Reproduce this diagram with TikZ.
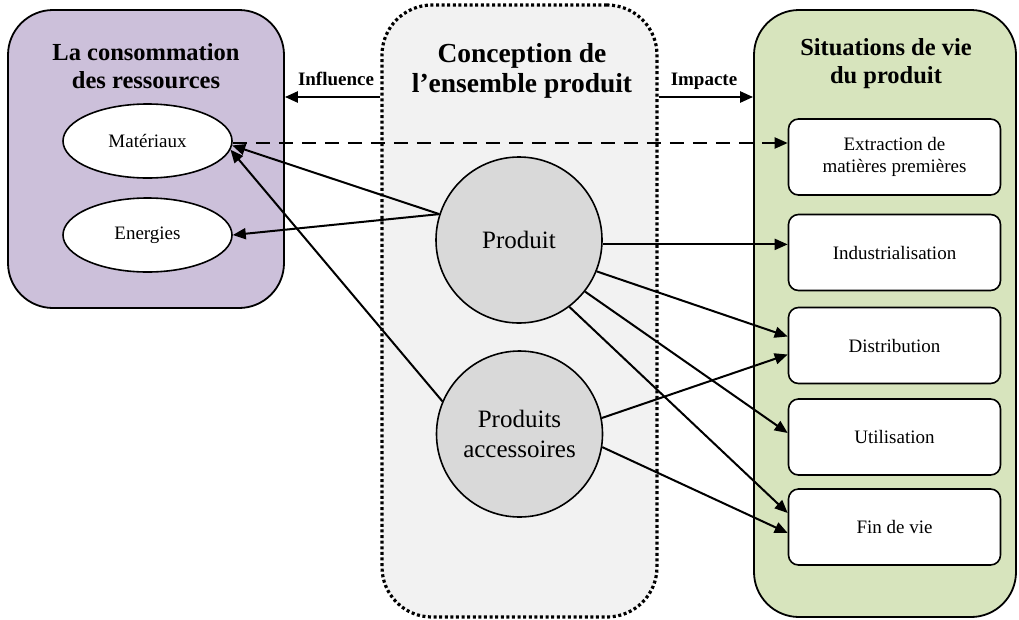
\documentclass[tikz,border=0pt]{standalone}
\usepackage{fontspec}
\setmainfont{Liberation Serif}
\usetikzlibrary{arrows.meta,calc,shapes.geometric}
\definecolor{purpleL}{HTML}{CCC0DA}
\definecolor{greenL}{HTML}{D7E4BD}
\definecolor{ctrgray}{HTML}{F2F2F2}
\definecolor{circgray}{HTML}{D9D9D9}
\begin{document}
\begin{tikzpicture}[x=1pt,y=-1pt,
  arr/.style={line width=2pt,-{Triangle[length=13pt,width=11pt]}},
  panel/.style={draw,line width=1.8pt,rounded corners=45pt,inner sep=0pt},
  title/.style={font=\bfseries\fontsize{24.5}{28}\selectfont,align=center},
  ctitle/.style={font=\bfseries\fontsize{27.5}{30}\selectfont,align=center},
  ell/.style={ellipse,draw,line width=1.6pt,fill=white,minimum width=169pt,minimum height=74pt,inner sep=0pt,font=\fontsize{19}{22}\selectfont},
  circ/.style={circle,draw,line width=1.6pt,fill=circgray,minimum size=166pt,inner sep=0pt,align=center,font=\fontsize{25}{30}\selectfont},
  sbox/.style={draw,line width=1.6pt,fill=white,rounded corners=10pt,minimum width=212pt,minimum height=76pt,inner sep=0pt,align=center,font=\fontsize{19}{22}\selectfont},
  lbl/.style={font=\bfseries\fontsize{19}{22}\selectfont,anchor=base}]
\useasboundingbox (0,0) rectangle (1019,619);
% panels
\node[panel,fill=purpleL,minimum width=276pt,minimum height=298pt] (res) at (146,159) {};
\node[draw,line width=3.2pt,dash pattern=on 3pt off 2.6pt,rounded corners=50pt,fill=ctrgray,minimum width=275pt,minimum height=612pt,inner sep=0pt] (ctr) at (519.5,311) {};
\node[panel,fill=greenL,minimum width=262pt,minimum height=607pt] (sit) at (885,313.5) {};
% titles
\node[title] (tres) at (146,66) {La consommation\\des ressources};
\node[ctitle] (tctr) at (522,71) {Conception de\\l’ensemble produit};
\node[title] (tsit) at (886,64) {Situations de vie\\du produit};
\coordinate (ay) at (0,97);
\node[lbl] (linf) at (336,85) {Influence};
\node[lbl] (limp) at (704,85) {Impacte};
% inner nodes
\node[ell] (mat) at (147.5,141) {Matériaux};
\node[ell] (en) at (147.5,235) {Energies};
\node[circ] (prod) at (519,240) {Produit};
\node[circ] (acc) at (519.5,434) {Produits\\accessoires};
\node[sbox] (ext) at (894.5,157) {Extraction de\\matières premières};
\node[sbox] (ind) at (894.5,252.5) {Industrialisation};
\node[sbox] (dist) at (894.5,345.5) {Distribution};
\node[sbox] (util) at (894.5,437) {Utilisation};
\node[sbox] (fin) at (894.5,527) {Fin de vie};
% connectors
\draw[arr,line width=2.4pt] (ctr.west |- ay) -- (res.east |- ay);
\draw[arr,line width=2.4pt] (ctr.east |- ay) -- (sit.west |- ay);
\draw[arr,dash pattern=on 14pt off 9pt] ($(mat.east)+(0,2)$) -- ($(mat.east -| ext.west)+(0,2)$);
\draw[arr] (prod.162) -- (mat.-3);
\draw[arr] (prod.162) -- (en.east);
\draw[arr] (acc.157) -- (mat.-6);
\draw[arr] (prod.-3.5) -- (prod.-3.5 -| ind.west);
\draw[arr] (prod.-22) -- ($(dist.west)+(0,-9)$);
\draw[arr] (prod.-38) -- ($(util.west)+(0,-4)$);
\draw[arr] (prod.-53) -- ($(fin.west)+(0,-14)$);
\draw[arr] (acc.11) -- ($(dist.west)+(0,9)$);
\draw[arr] (acc.-9.5) -- ($(fin.west)+(0,6)$);
\end{tikzpicture}
\end{document}
